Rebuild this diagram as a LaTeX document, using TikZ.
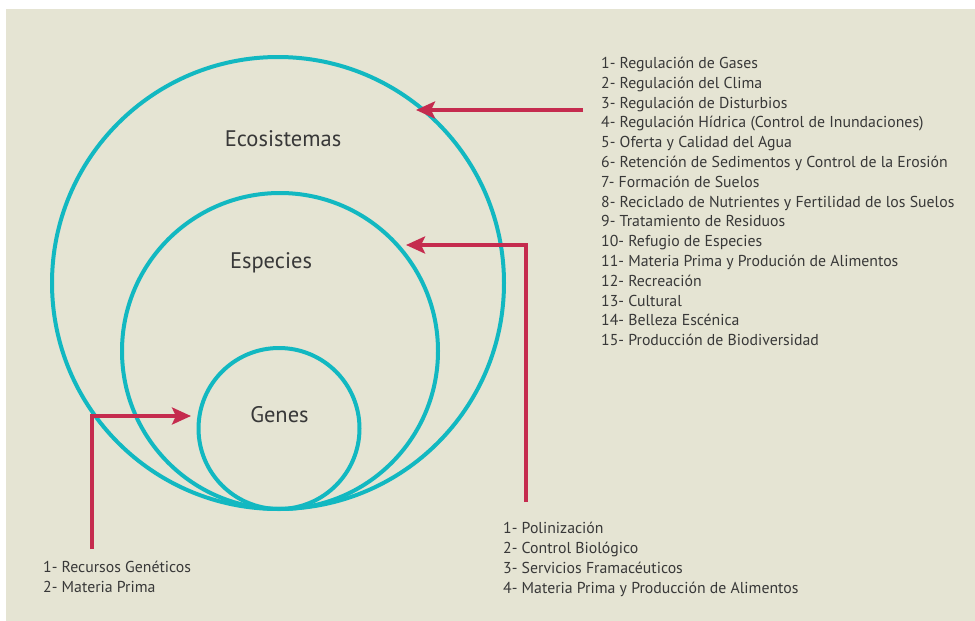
\documentclass[tikz,border=0pt]{standalone}
\usepackage{fontspec}
\setmainfont{PT Sans}
\usetikzlibrary{arrows.meta}
\definecolor{fondo}{HTML}{E5E4D3}
\definecolor{turquesa}{HTML}{12B8C1}
\definecolor{carmin}{HTML}{C52B4E}
\definecolor{texto}{HTML}{383838}
\tikzset{
  nivel/.style={circle, draw=turquesa, line width=4pt, inner sep=0pt},
  rotulo/.style={anchor=base, text=texto, font=\fontsize{22.5}{27}\selectfont},
  lista/.style={anchor=north west, align=left, inner sep=0pt, text=texto,
    font=\fontsize{15.8}{19.8}\selectfont},
  flecha/.style={draw=carmin, line width=4pt,
    -{Stealth[length=19pt,width=17pt,inset=4pt]}}
}
\begin{document}
\begin{tikzpicture}[x=1pt, y=-1pt]
  \useasboundingbox (0,0) rectangle (975,621);
  \fill[fondo] (6,9) rectangle (975,621);

  % niveles de biodiversidad
  \node[nivel, minimum size=452pt] (eco) at (278,283) {};
  \node[nivel, minimum size=316pt] (esp) at (280,351) {};
  \node[nivel, minimum size=161pt] (gen) at (279,428.5) {};
  \node[rotulo] (ecoT) at (283,146) {Ecosistemas};
  \node[rotulo] (espT) at (271,268) {Especies};
  \node[rotulo] (genT) at (279.5,422) {Genes};

  % servicios
  \node[lista] (servEco) at (601,57) {1- Regulación de Gases\\
    2- Regulación del Clima\\
    3- Regulación de Disturbios\\
    4- Regulación Hídrica (Control de Inundaciones)\\
    5- Oferta y Calidad del Agua\\
    6- Retención de Sedimentos y Control de la Erosión\\
    7- Formación de Suelos\\
    8- Reciclado de Nutrientes y Fertilidad de los Suelos\\
    9- Tratamiento de Residuos\\
    10- Refugio de Especies\\
    11- Materia Prima y Produción de Alimentos\\
    12- Recreación\\
    13- Cultural\\
    14- Belleza Escénica\\
    15- Producción de Biodiversidad};
  \node[lista, font=\fontsize{15.8}{20}\selectfont] (servEsp) at (503,521.5)
    {1- Polinización\\
    2- Control Biológico\\
    3- Servicios Framacéuticos\\
    4- Materia Prima y Producción de Alimentos};
  \node[lista, font=\fontsize{15.8}{20}\selectfont] (servGen) at (43,560.5)
    {1- Recursos Genéticos\\
    2- Materia Prima};

  % flechas
  \coordinate (ecoA) at (583,110);
  \coordinate (ecoB) at (416,110);
  \coordinate (espA) at (526,502);
  \coordinate (espB) at (406,245);
  \coordinate (genA) at (92,549);
  \coordinate (genB) at (191,416);
  \draw[flecha] (ecoA) -- (ecoB);
  \draw[flecha] (espA) |- (espB);
  \draw[flecha] (genA) |- (genB);
\end{tikzpicture}
\end{document}
